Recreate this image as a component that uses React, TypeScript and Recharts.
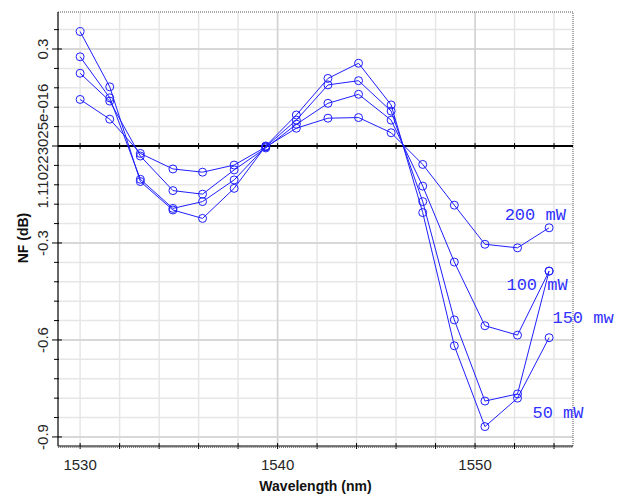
import React from 'react';
import { LineChart, Line, XAxis, YAxis, CartesianGrid, ReferenceLine, ReferenceDot } from 'recharts';

// ---- data ----
const wavelengths = [1530, 1531.5, 1533.05, 1534.7, 1536.2, 1537.8, 1539.4, 1540.95, 1542.55, 1544.1, 1545.75, 1547.35, 1548.95, 1550.5, 1552.15, 1553.75];
const nf200 = [0.144, 0.083, -0.023, -0.071, -0.081, -0.059, -0.003, 0.055, 0.086, 0.088, 0.041, -0.057, -0.183, -0.304, -0.315, -0.253];
const nf100 = [0.225, 0.139, -0.031, -0.138, -0.149, -0.074, -0.006, 0.067, 0.132, 0.160, 0.080, -0.124, -0.359, -0.556, -0.585, -0.387];
const nf150 = [0.276, 0.149, -0.103, -0.193, -0.172, -0.105, -0.002, 0.080, 0.189, 0.202, 0.108, -0.172, -0.538, -0.789, -0.767, -0.387];
const nf50 = [0.354, 0.183, -0.110, -0.198, -0.224, -0.131, 0.000, 0.096, 0.209, 0.256, 0.127, -0.206, -0.618, -0.868, -0.780, -0.593];

// annotation labels (data coordinates)
const labelTexts = ['200 mW', '100 mW', '150 mw', '50 mW'];
const labelX = [1553.05, 1553.14, 1555.47, 1554.2];
const labelY = [-0.21, -0.427, -0.529, -0.824];

// axes
const xDomain = [1528.88, 1554.96];
const yDomain = [-0.928, 0.4145];
const xMajorTicks = [1530, 1540, 1550];
const xTickLabels = ['1530', '1540', '1550'];
const xGridValues = [1530, 1532, 1534, 1536, 1538, 1540, 1542, 1544, 1546, 1548, 1550, 1552, 1554];
const xDarkGrid = [1540, 1550];
const yMajorTicks = [0.3, 0, -0.3, -0.6, -0.9];
const yTickLabels = ['0.3', '1.110223025e-016', '-0.3', '-0.6', '-0.9'];
const yGridValues = [-0.9, -0.84, -0.78, -0.72, -0.66, -0.6, -0.54, -0.48, -0.42, -0.36, -0.3, -0.24, -0.18, -0.12, -0.06, 0, 0.06, 0.12, 0.18, 0.24, 0.3, 0.36];
const yDarkGrid = [0.3, -0.3, -0.6, -0.9];

const xDenseTicks: number[] = [];
for (let i = 0; i <= 260; i++) {
  const v = Math.round((1528.9 + i * 0.1) * 100) / 100;
  if (v <= xDomain[1]) xDenseTicks.push(v);
}

const tableData = wavelengths.map((w, i) => ({
  x: w,
  p200: nf200[i],
  p100: nf100[i],
  p150: nf150[i],
  p50: nf50[i],
}));

const BLUE = '#1f1fff';
const LABEL_BLUE = '#3030ff';
const SANS = "Arial, 'Liberation Sans', sans-serif";

const near = (a: number, b: number) => Math.abs(a - b) < 1e-6;

const XTick = (props: any) => {
  const { x, y, payload } = props;
  const v = payload.value;
  const mi = xMajorTicks.findIndex((m) => near(m, v));
  const isGrid = xGridValues.some((m) => near(m, v));
  if (mi >= 0 || isGrid) {
    return (
      <g>
        <line x1={x} x2={x} y1={y - 3} y2={y + 3} stroke="#000" strokeWidth={1} />
        {mi >= 0 && (
          <text x={x} y={y + 24} textAnchor="middle" fontSize={15} fontFamily={SANS} fill="#262626">
            {xTickLabels[mi]}
          </text>
        )}
      </g>
    );
  }
  return <line x1={x} x2={x} y1={y} y2={y + 2} stroke="#555" strokeWidth={0.8} />;
};

const YTick = (props: any) => {
  const { x, y, payload } = props;
  const v = payload.value;
  const mi = yMajorTicks.findIndex((m) => near(m, v));
  const major = mi >= 0;
  const tx = x - 15;
  return (
    <g>
      <line x1={x - (major ? 6 : 4)} x2={x + (major ? 4 : 1)} y1={y} y2={y} stroke="#000" strokeWidth={1} />
      {major && (
        <text
          x={tx}
          y={y}
          transform={`rotate(-90, ${tx}, ${y})`}
          textAnchor="middle"
          dominantBaseline="central"
          fontSize={15}
          fontFamily={SANS}
          fill="#262626"
        >
          {yTickLabels[mi]}
        </text>
      )}
    </g>
  );
};

const YTitle = (props: any) => {
  const vb = props.viewBox || { x: 0, y: 12, width: 58, height: 434 };
  const cx = vb.x + 23;
  const cy = vb.y + vb.height / 2 + 9;
  return (
    <text
      x={cx}
      y={cy}
      transform={`rotate(-90, ${cx}, ${cy})`}
      textAnchor="middle"
      dominantBaseline="central"
      fontWeight="bold"
      fontSize={14}
      fontFamily={SANS}
      fill="#111"
    >
      NF (dB)
    </text>
  );
};

const XTitle = (props: any) => {
  const vb = props.viewBox || { x: 58, y: 446, width: 515, height: 53 };
  return (
    <text
      x={vb.x + vb.width / 2}
      y={vb.y + 45}
      textAnchor="middle"
      fontWeight="bold"
      fontSize={14}
      fontFamily={SANS}
      fill="#111"
    >
      Wavelength (nm)
    </text>
  );
};

const series = [
  { key: 'p200' },
  { key: 'p100' },
  { key: 'p150' },
  { key: 'p50' },
];

export default function App() {
  return (
    <div style={{ position: 'absolute', left: 0, top: 0, width: 625, height: 499, background: '#fff' }}>
      <LineChart width={625} height={499} data={tableData} margin={{ top: 12, right: 52, bottom: 0, left: 0 }}>
        <CartesianGrid
          stroke="#e6e6e6"
          strokeWidth={1.5}
          verticalValues={xGridValues}
          horizontalValues={yGridValues}
        />
        {xDarkGrid.map((v) => (
          <ReferenceLine key={'dx' + v} x={v} stroke="#d2d2d2" strokeWidth={1.5} />
        ))}
        {yDarkGrid.map((v) => (
          <ReferenceLine key={'dy' + v} y={v} stroke="#d2d2d2" strokeWidth={1.5} />
        ))}
        <ReferenceLine y={yDomain[1]} stroke="#555" strokeDasharray="1 1" />
        <ReferenceLine x={xDomain[1]} stroke="#555" strokeDasharray="1 1" />
        <XAxis
          dataKey="x"
          type="number"
          domain={xDomain}
          allowDataOverflow
          ticks={xDenseTicks}
          interval={0}
          tick={(p: any) => <XTick {...p} />}
          tickLine={false}
          tickSize={0}
          tickMargin={0}
          axisLine={{ stroke: '#000', strokeWidth: 1.2 }}
          height={53}
          label={{ content: (p: any) => <XTitle {...p} /> }}
        />
        <YAxis
          type="number"
          domain={yDomain}
          allowDataOverflow
          ticks={yGridValues}
          interval={0}
          tick={(p: any) => <YTick {...p} />}
          tickLine={false}
          tickSize={0}
          tickMargin={0}
          axisLine={{ stroke: '#000', strokeWidth: 1.2 }}
          width={58}
          label={{ content: (p: any) => <YTitle {...p} /> }}
        />
        <ReferenceLine y={0} stroke="#000" strokeWidth={1.8} />
        {xGridValues.map((v) => (
          <ReferenceLine
            key={'zt' + v}
            segment={[{ x: v, y: 0.009 }, { x: v, y: -0.009 }]}
            stroke="#000"
            strokeWidth={1}
          />
        ))}
        {series.map((s) => (
          <Line
            key={s.key}
            dataKey={s.key}
            type="linear"
            stroke={BLUE}
            strokeWidth={1}
            dot={{ r: 4, stroke: BLUE, strokeWidth: 1, fill: 'none' }}
            activeDot={false}
            isAnimationActive={false}
          />
        ))}
        {labelTexts.map((t, i) => (
          <ReferenceDot
            key={t}
            x={labelX[i]}
            y={labelY[i]}
            r={0}
            stroke="none"
            fill="none"
            ifOverflow="visible"
            label={{
              value: t,
              position: 'center',
              fill: LABEL_BLUE,
              fontSize: 17,
              fontFamily: "'Courier New', 'Liberation Mono', monospace",
            }}
          />
        ))}
      </LineChart>
    </div>
  );
}
